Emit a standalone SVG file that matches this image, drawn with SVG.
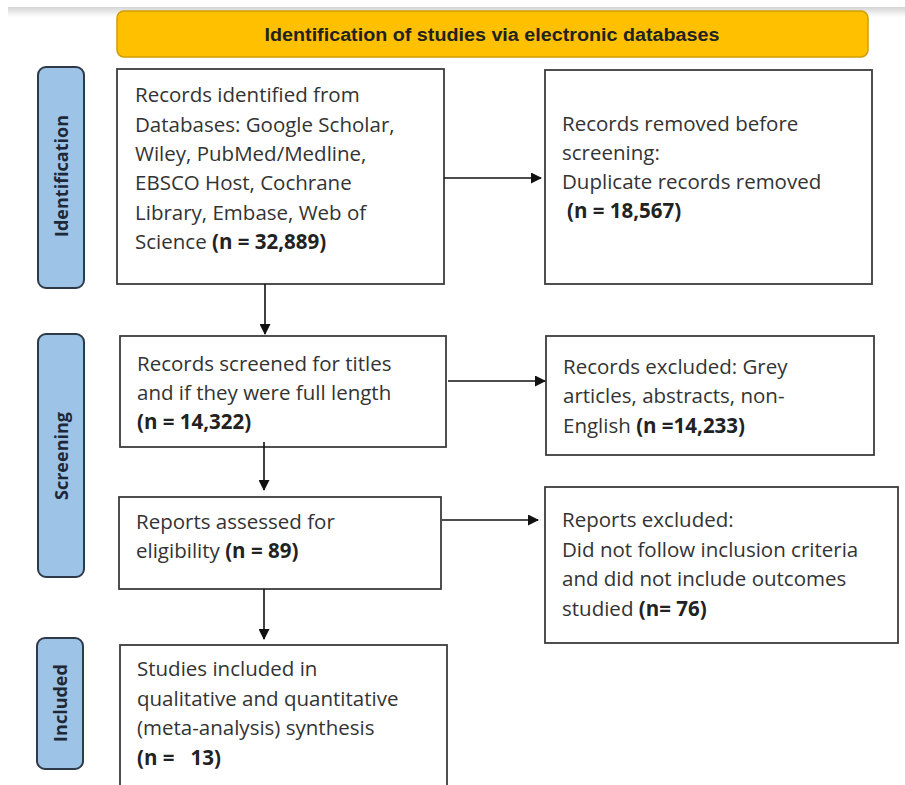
<svg xmlns="http://www.w3.org/2000/svg" width="905" height="785" viewBox="0 0 905 785">
<defs>
<linearGradient id="shadow" x1="0" y1="0" x2="0" y2="1">
<stop offset="0" stop-color="#d4d4d4"/>
<stop offset="1" stop-color="#ffffff"/>
</linearGradient>
<marker id="arr" markerWidth="11" markerHeight="11" refX="10" refY="5.5" orient="auto" markerUnits="userSpaceOnUse">
<path d="M0,0 L11,5.5 L0,11 Z" fill="#111"/>
</marker>
<style>
.box{fill:#fff;stroke:#3c3c3c;stroke-width:1.8}
.lab{fill:#9dc3e6;stroke:#2e3a48;stroke-width:2}
.t{font-family:"Open Sans","Liberation Sans",sans-serif;font-size:20.5px;fill:#333}
.b{font-weight:bold;fill:#222}
.lt{font-family:"Open Sans","Liberation Sans",sans-serif;font-size:18px;font-weight:bold;fill:#1e2836;text-anchor:middle}
.ban{font-family:"Liberation Sans","Open Sans",sans-serif;font-size:18px;font-weight:bold;fill:#222;text-anchor:middle}
.c{stroke:#111;stroke-width:1.6;fill:none}
</style>
</defs>
<rect width="905" height="785" fill="#fff"/>
<rect x="8" y="7" width="897" height="10" fill="url(#shadow)"/>

<g id="banner">
<rect x="117" y="11" width="751" height="46" rx="7" fill="#ffc000" stroke="#cf9e00" stroke-width="1.5"/>
<text class="ban" x="492" y="41" textLength="455" lengthAdjust="spacingAndGlyphs">Identification of studies via electronic databases</text>
</g>

<g id="label-identification">
<rect class="lab" x="38" y="67" width="46" height="221" rx="8"/>
<text class="lt" transform="translate(68,176) rotate(-90)">Identification</text>
</g>
<g id="label-screening">
<rect class="lab" x="38" y="334" width="46" height="243" rx="8"/>
<text class="lt" transform="translate(68,456) rotate(-90)">Screening</text>
</g>
<g id="label-included">
<rect class="lab" x="37" y="638" width="46" height="131" rx="8"/>
<text class="lt" transform="translate(67,703) rotate(-90)">Included</text>
</g>

<g id="records-identified">
<rect class="box" x="117" y="69" width="327" height="215"/>
<text class="t" x="135" y="102">Records identified from</text>
<text class="t" x="135" y="131.5">Databases: Google Scholar,</text>
<text class="t" x="135" y="161">Wiley, PubMed/Medline,</text>
<text class="t" x="135" y="190">EBSCO Host, Cochrane</text>
<text class="t" x="135" y="219.5">Library, Embase, Web of</text>
<text class="t" x="135" y="249">Science <tspan class="b">(n = 32,889)</tspan></text>
</g>

<g id="records-removed">
<rect class="box" x="545" y="70" width="327" height="214"/>
<text class="t" x="562" y="131">Records removed before</text>
<text class="t" x="562" y="160">screening:</text>
<text class="t" x="562" y="189">Duplicate records removed</text>
<text class="t" x="567" y="218"><tspan class="b">(n = 18,567)</tspan></text>
</g>

<g id="records-screened">
<rect class="box" x="120" y="336" width="326" height="111"/>
<text class="t" x="137" y="371">Records screened for titles</text>
<text class="t" x="137" y="400">and if they were full length</text>
<text class="t" x="137" y="429"><tspan class="b">(n = 14,322)</tspan></text>
</g>

<g id="records-excluded">
<rect class="box" x="546" y="336" width="328" height="119"/>
<text class="t" x="563" y="374">Records excluded: Grey</text>
<text class="t" x="563" y="403">articles, abstracts, non-</text>
<text class="t" x="563" y="433">English <tspan class="b">(n =14,233)</tspan></text>
</g>

<g id="reports-assessed">
<rect class="box" x="119" y="497" width="322" height="92"/>
<text class="t" x="136" y="529">Reports assessed for</text>
<text class="t" x="136" y="558">eligibility <tspan class="b">(n = 89)</tspan></text>
</g>

<g id="reports-excluded">
<rect class="box" x="545" y="487" width="353" height="156"/>
<text class="t" x="562" y="527">Reports excluded:</text>
<text class="t" x="562" y="557">Did not follow inclusion criteria</text>
<text class="t" x="562" y="586">and did not include outcomes</text>
<text class="t" x="562" y="616">studied <tspan class="b">(n= 76)</tspan></text>
</g>

<g id="studies-included">
<rect class="box" x="120" y="645" width="327" height="170"/>
<text class="t" x="137" y="676">Studies included in</text>
<text class="t" x="137" y="706">qualitative and quantitative</text>
<text class="t" x="137" y="735">(meta-analysis) synthesis</text>
<text class="t" x="137" y="765" xml:space="preserve"><tspan class="b">(n =   13)</tspan></text>
</g>

<g id="connectors">
<line class="c" x1="265" y1="284" x2="265" y2="334" marker-end="url(#arr)"/>
<line class="c" x1="264" y1="442" x2="264" y2="490" marker-end="url(#arr)"/>
<line class="c" x1="264" y1="589" x2="264" y2="639" marker-end="url(#arr)"/>
<line class="c" x1="444" y1="178" x2="541" y2="178" marker-end="url(#arr)"/>
<line class="c" x1="448" y1="381" x2="545" y2="381" marker-end="url(#arr)"/>
<line class="c" x1="442" y1="520" x2="538" y2="520" marker-end="url(#arr)"/>
</g>
</svg>
